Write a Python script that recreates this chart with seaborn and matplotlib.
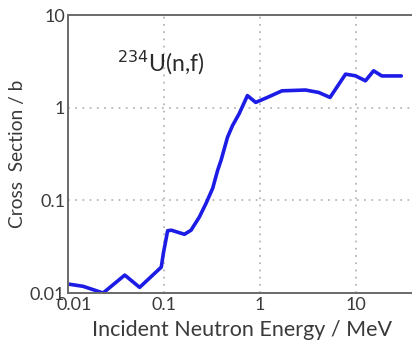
import numpy as np
import pandas as pd
import matplotlib
matplotlib.use("Agg")
import matplotlib.pyplot as plt
import matplotlib.transforms as mtransforms
import seaborn as sns
from matplotlib.ticker import FixedLocator, FixedFormatter, NullLocator

# 234U(n,f) cross section, incident energy in MeV, cross section in barns
energy_mev = [0.010, 0.0144, 0.0232, 0.039, 0.0557, 0.0935, 0.0985, 0.109,
              0.119, 0.163, 0.191, 0.233, 0.274, 0.321, 0.361, 0.392, 0.458,
              0.516, 0.605, 0.738, 0.90, 1.19, 1.69, 2.97, 4.07, 5.35, 7.76,
              9.8, 12.5, 15.2, 18.5, 29.5]
cross_section_b = [0.0125, 0.0118, 0.0100, 0.0156, 0.0115, 0.019, 0.027, 0.047,
                   0.0476, 0.043, 0.0476, 0.066, 0.093, 0.135, 0.21, 0.27, 0.48,
                   0.64, 0.86, 1.35, 1.14, 1.29, 1.52, 1.55, 1.46, 1.29, 2.30,
                   2.21, 1.95, 2.50, 2.20, 2.20]

x_ticks = [0.01, 0.1, 1, 10]
x_tick_labels = ["0.01", "0.1", "1", "10"]
y_ticks = [0.01, 0.1, 1, 10]
y_tick_labels = ["0.01", "0.1", "1", "10"]

df = pd.DataFrame({"E": energy_mev, "sigma": cross_section_b})

sns.set_style("white")
plt.rcParams["font.family"] = ["Lato", "DejaVu Sans"]

fig = plt.figure(figsize=(4.12, 3.43), dpi=100)
ax = fig.add_axes([68 / 412, 1 - 293 / 343, 348 / 412, 278 / 343])

sns.lineplot(data=df, x="E", y="sigma", ax=ax, color="#1c1ce6",
             linewidth=2.6, solid_joinstyle="round", solid_capstyle="round")

ax.set_xscale("log")
ax.set_yscale("log")
ax.set_xlim(0.01, 42)
ax.set_ylim(0.01, 10)

ax.xaxis.set_major_locator(FixedLocator(x_ticks))
ax.xaxis.set_major_formatter(FixedFormatter(x_tick_labels))
ax.yaxis.set_major_locator(FixedLocator(y_ticks))
ax.yaxis.set_major_formatter(FixedFormatter(y_tick_labels))
ax.xaxis.set_minor_locator(NullLocator())
ax.yaxis.set_minor_locator(NullLocator())

ax.grid(True, which="major", color="#b8b8b8", linestyle=(0, (1, 3)),
        linewidth=1.3)
ax.tick_params(axis="both", direction="in", colors="#555555",
               labelcolor="#3a3a3a", labelsize=13, width=1.2)
ax.tick_params(axis="y", length=7, pad=2)
ax.tick_params(axis="x", length=5, pad=3)

for side in ("left", "bottom", "top"):
    ax.spines[side].set_color("#6a6a6a")
    ax.spines[side].set_linewidth(1.4)
ax.spines["right"].set_visible(False)

ax.set_xlabel("Incident Neutron Energy / MeV", fontsize=15.5,
              color="#3a3a3a", labelpad=5)
ax.set_ylabel("Cross  Section / b", fontsize=13.8, color="#3a3a3a",
              labelpad=3)

# nudge the first x tick label right, away from the y-axis label
fig.canvas.draw()
first = ax.xaxis.get_majorticklabels()[0]
first.set_transform(first.get_transform() +
                    mtransforms.ScaledTranslation(6 / 100, 0, fig.dpi_scale_trans))

ax.text(0.032, 3.05, r"$^{234}$U(n,f)", fontsize=16.5, color="#2a2a2a",
        ha="left", va="center")

fig.savefig("out.png", dpi=100)
